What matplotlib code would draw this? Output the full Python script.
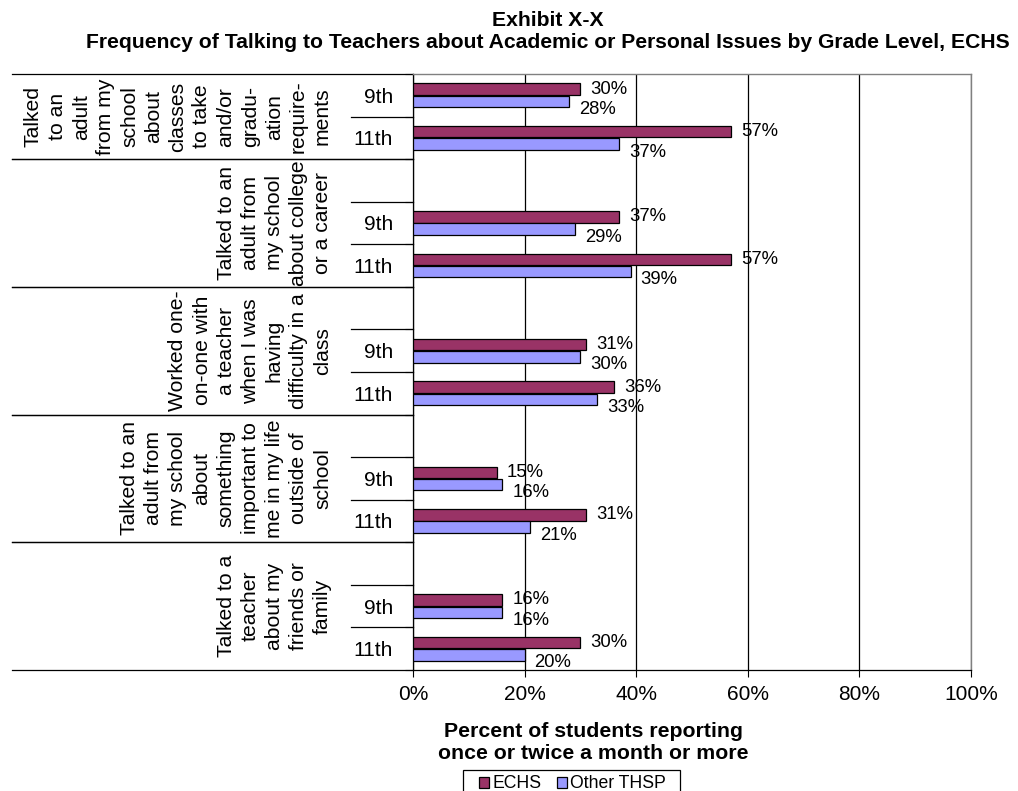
import matplotlib
matplotlib.use("Agg")
import matplotlib.pyplot as plt
from matplotlib.patches import Rectangle, Patch
from matplotlib.transforms import blended_transform_factory

plt.rcParams['font.family'] = ['Liberation Sans', 'DejaVu Sans']

# ---- data -------------------------------------------------------------
title_line1 = "Exhibit X-X"
title_line2 = ("Frequency of Talking to Teachers about Academic or Personal "
               "Issues by Grade Level, ECHS")
groups = [
    "Talked\nto an\nadult\nfrom my\nschool\nabout\nclasses\nto take\nand/or\ngradu-\nation\nrequire-\nments",
    "Talked to an\nadult from\nmy school\nabout college\nor a career",
    "Worked one-\non-one with\na teacher\nwhen I was\nhaving\ndifficulty in a\nclass",
    "Talked to an\nadult from\nmy school\nabout\nsomething\nimportant to\nme in my life\noutside of\nschool",
    "Talked to a\nteacher\nabout my\nfriends or\nfamily",
]
grades = ["9th", "11th"]
series_names = ["ECHS", "Other THSP"]
echs = [30, 57, 37, 57, 31, 36, 15, 31, 16, 30]
other = [28, 37, 29, 39, 30, 33, 16, 21, 16, 20]
x_ticks = [0, 20, 40, 60, 80, 100]
x_title = ["Percent of students reporting", "once or twice a month or more"]

colors = ["#993366", "#9999FF"]

# ---- figure -----------------------------------------------------------
W, H = 1018, 791
fig = plt.figure(figsize=(W / 100, H / 100), dpi=100)


def fx(px):
    return px / W


def fy(py):
    return 1 - py / H


ax = fig.add_axes([fx(413), fy(670), fx(971) - fx(413), fy(74) - fy(670)])

# slot layout: each group after the first starts with an empty slot
rows = []      # (slot index, group index, grade index)
group_span = []
slot = 0
for g in range(len(groups)):
    start = slot
    if g > 0:
        slot += 1
    for k in range(len(grades)):
        rows.append((slot, g, k))
        slot += 1
    group_span.append((start, slot))
n_slots = slot

off, bh = 0.145, 0.27
for i, (s, g, k) in enumerate(rows):
    yc = s + 0.5
    for j, (vals, col) in enumerate(((echs, colors[0]), (other, colors[1]))):
        y = yc - off if j == 0 else yc + off
        ax.barh(y, vals[i], height=bh, color=col, edgecolor='black',
                linewidth=0.9, zorder=3)
        ax.annotate(f"{vals[i]}%", (vals[i], y), xytext=(10, 0 if j == 0 else -8),
                    textcoords='offset pixels', ha='left', va='center',
                    fontsize=13.3, zorder=4)

ax.set_xlim(0, 100)
ax.set_ylim(n_slots, 0)
ax.set_xticks(x_ticks)
ax.set_xticklabels([f"{t}%" for t in x_ticks], fontsize=15)
ax.tick_params(axis='x', direction='out', length=5, width=0.8, pad=6)
ax.set_yticks(range(n_slots + 1))
ax.set_yticklabels([])
ax.tick_params(axis='y', direction='out', length=6, width=0.8)
ax.grid(axis='x', color='black', linewidth=0.9, zorder=1)
ax.set_axisbelow(True)
for side in ('top', 'right'):
    ax.spines[side].set_color('#808080')
    ax.spines[side].set_linewidth(1.0)
for side in ('left', 'bottom'):
    ax.spines[side].set_color('black')
    ax.spines[side].set_linewidth(0.9)

# category axis: grade labels, separators and group labels
tr = blended_transform_factory(ax.transAxes, ax.transData)
x_left = (12 - 413) / 558
x_grade = (351 - 413) / 558
for s, g, k in rows:
    ax.annotate(grades[k], ((393 - 413) / 558, s + 0.5), xycoords=tr,
                xytext=(0, -7.5), textcoords='offset pixels',
                ha='right', va='baseline', fontsize=15)
for g, (a, b) in enumerate(group_span):
    for yb in (a, b):
        ax.plot([x_left, 0], [yb, yb], transform=tr, color='black',
                linewidth=0.9, clip_on=False)
    for yb in range(a + 1, b):
        ax.plot([x_grade, 0], [yb, yb], transform=tr, color='black',
                linewidth=0.9, clip_on=False)
    ax.text((332 - 413) / 558, (a + b) / 2, groups[g], transform=tr,
            rotation=90, ha='right', va='center', multialignment='center',
            fontsize=15.2, linespacing=1.34)

# titles
fig.text(fx(548), fy(26), title_line1, ha='center', va='baseline',
         fontsize=15.2, fontweight='bold')
fig.text(fx(548), fy(48), title_line2, ha='center', va='baseline',
         fontsize=15.2, fontweight='bold')
fig.text(fx(593), fy(737), x_title[0], ha='center', va='baseline',
         fontsize=15.3, fontweight='bold')
fig.text(fx(593), fy(759), x_title[1], ha='center', va='baseline',
         fontsize=15.3, fontweight='bold')

# legend
handles = [Patch(facecolor=c, edgecolor='black', linewidth=0.9) for c in colors]
fig.legend(handles, series_names, loc='center left',
           bbox_to_anchor=(fx(479), fy(784)), frameon=False, ncol=2,
           fontsize=12.7, handlelength=0.55, handleheight=0.55,
           handletextpad=0.2, columnspacing=0.9, borderpad=0,
           borderaxespad=0)
fig.patches.append(Rectangle((fx(463), fy(800)), fx(680) - fx(463),
                             fy(770) - fy(800), transform=fig.transFigure,
                             fill=False, edgecolor='black', linewidth=0.9))

fig.savefig("out.png", dpi=100)
